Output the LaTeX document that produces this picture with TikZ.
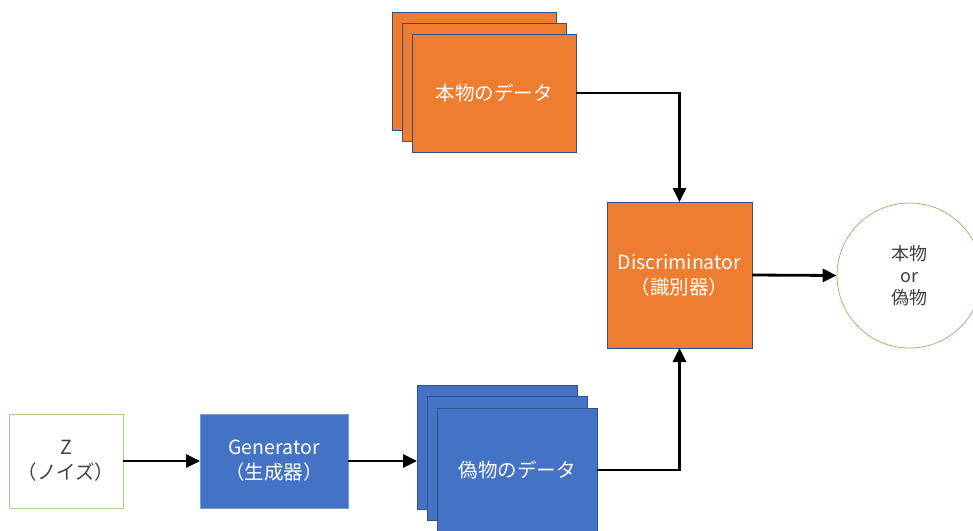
\documentclass[tikz,border=0pt]{standalone}
\usepackage{fontspec}
\setmainfont{Noto Sans CJK JP}
\usetikzlibrary{arrows.meta,positioning}

\definecolor{accorange}{HTML}{ED7D31}
\definecolor{accblue}{HTML}{4472C4}
\definecolor{edgeblue}{HTML}{2F528F}
\definecolor{palegreen}{HTML}{A9D18E}
\definecolor{leafgreen}{HTML}{8CC474}
\definecolor{darktext}{HTML}{404040}

\tikzset{
  x=1pt, y=-1pt,
  card/.style={draw=edgeblue, line width=0.6pt, anchor=north west,
    inner sep=0pt, outer sep=0pt, text=white},
  realcard/.style={card, fill=accorange, minimum width=164pt, minimum height=118pt},
  fakecard/.style={card, fill=accblue, minimum width=160pt, minimum height=124pt},
  boxtext/.style={font=\fontsize{19.5}{25}\selectfont, align=center},
  arr/.style={line width=2.8pt, -{Triangle[length=14pt,width=13pt]}},
}

\begin{document}
\begin{tikzpicture}
  \useasboundingbox (0,0) rectangle (973,530);

  % stack of real samples
  \node[realcard] (real1) at (392,12) {};
  \node[realcard] (real2) at (402,23) {};
  \node[realcard, boxtext] (real3) at (412,34) {本物のデータ};

  % discriminator and its verdict
  \node[card, fill=accorange, minimum width=145pt, minimum height=146pt, boxtext]
    (disc) at (607,202) {Discriminator\\（識別器）};
  \node[circle, draw=leafgreen, line width=0.8pt, minimum size=145pt, inner sep=0pt,
    text=darktext, font=\fontsize{18}{22}\selectfont, align=center]
    (out) at (909.5,275.5) {本物\\or\\偽物};

  % noise input and generator
  \node[draw=palegreen, line width=0.8pt, anchor=north west, minimum width=114pt,
    minimum height=94pt, inner sep=0pt, outer sep=0pt, text=darktext, boxtext]
    (z) at (9,414) {Z\\（ノイズ）};
  \node[card, fill=accblue, draw=accblue!70!white, minimum width=148pt,
    minimum height=94pt, boxtext] (gen) at (200,414) {Generator\\（生成器）};

  % stack of generated samples
  \node[fakecard] (fake1) at (417,385) {};
  \node[fakecard] (fake2) at (427,396) {};
  \node[fakecard, boxtext] (fake3) at (437,408) {偽物のデータ};

  % data flow
  \draw[arr] (z.east) -- (gen.west);
  \draw[arr] (gen.east) -- (gen.east -| fake1.west);
  \draw[arr] (real3.east) -| (disc.north);
  \draw[arr] (fake3.east) -| (disc.south);
  \draw[arr] (disc.east) -- (out.west);
\end{tikzpicture}
\end{document}
